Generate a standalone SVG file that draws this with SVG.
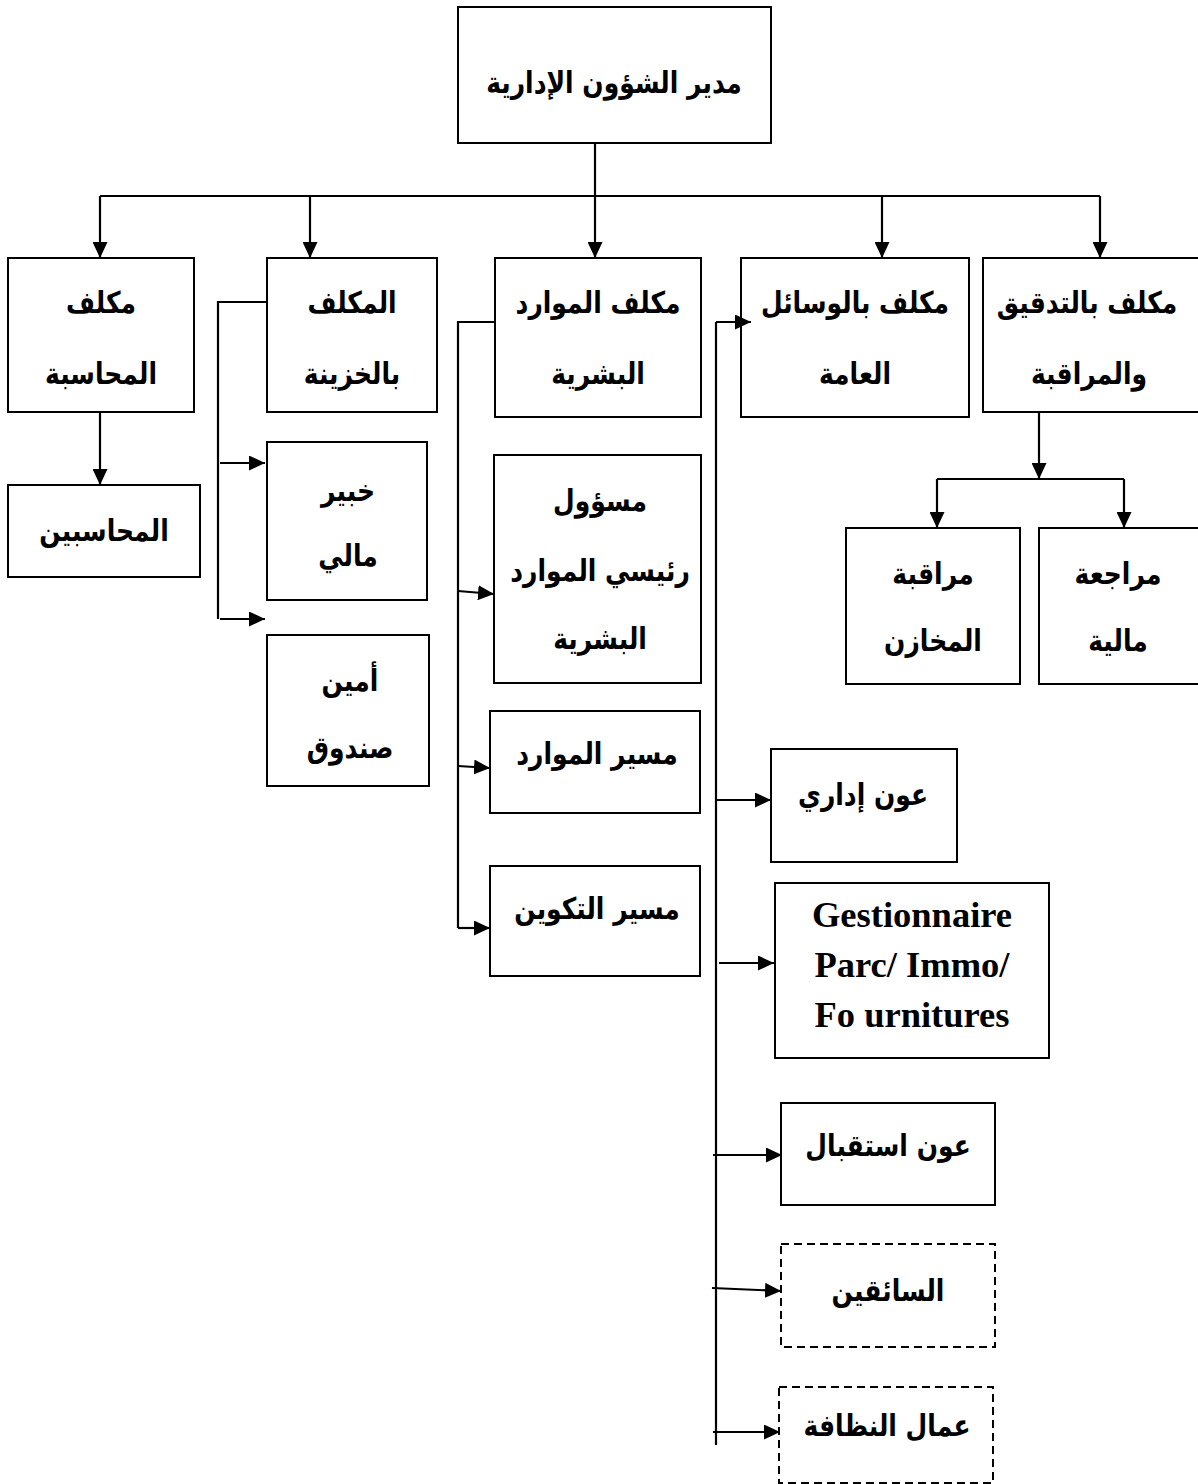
<svg xmlns="http://www.w3.org/2000/svg" width="1198" height="1484" viewBox="0 0 1198 1484">
  <style>
    .box { fill: #ffffff; stroke: #000000; stroke-width: 2; }
    .dash { stroke-dasharray: 8 5; }
    .ar { font-family: "DejaVu Sans", sans-serif; font-weight: bold; font-size: 25px; fill: #000000; text-anchor: middle; }
    .lat { font-family: "Liberation Serif", "Times New Roman", serif; font-weight: bold; font-size: 36.5px; fill: #000000; text-anchor: middle; }
    .ln { fill: none; stroke: #000000; stroke-width: 2.2; }
    .arr { fill: none; stroke: #000000; stroke-width: 2.2; marker-end: url(#head); }
  </style>
  <defs>
    <marker id="head" markerUnits="userSpaceOnUse" markerWidth="16" markerHeight="15" refX="16" refY="7.5" orient="auto">
      <path d="M0,0 L16,7.5 L0,15 Z" fill="#000000"/>
    </marker>
  </defs>
  <rect width="1198" height="1484" fill="#ffffff"/>

  <g id="director">
    <rect class="box" x="458" y="7" width="313" height="136"/>
    <text class="ar" transform="translate(614 93) scale(1 1.2)">مدير الشؤون الإدارية</text>
  </g>

  <g id="accounting">
    <rect class="box" x="8" y="258" width="186" height="154"/>
    <text class="ar" transform="translate(101 313) scale(1 1.2)">مكلف</text>
    <text class="ar" transform="translate(101 384) scale(1 1.2)">المحاسبة</text>
  </g>

  <g id="treasury">
    <rect class="box" x="267" y="258" width="170" height="154"/>
    <text class="ar" transform="translate(352 313) scale(1 1.2)">المكلف</text>
    <text class="ar" transform="translate(352 384) scale(1 1.2)">بالخزينة</text>
  </g>

  <g id="hr">
    <rect class="box" x="495" y="258" width="206" height="159"/>
    <text class="ar" transform="translate(598 313) scale(1 1.2)">مكلف الموارد</text>
    <text class="ar" transform="translate(598 384) scale(1 1.2)">البشرية</text>
  </g>

  <g id="means">
    <rect class="box" x="741" y="258" width="228" height="159"/>
    <text class="ar" transform="translate(855 313) scale(1 1.2)">مكلف بالوسائل</text>
    <text class="ar" transform="translate(855 384) scale(1 1.2)">العامة</text>
  </g>

  <g id="audit">
    <rect class="box" x="983" y="258" width="222" height="154"/>
    <text class="ar" transform="translate(1087 313) scale(1 1.2)">مكلف بالتدقيق</text>
    <text class="ar" transform="translate(1089 384) scale(1 1.2)">والمراقبة</text>
  </g>

  <g id="accountants">
    <rect class="box" x="8" y="485" width="192" height="92"/>
    <text class="ar" transform="translate(104 541) scale(1 1.2)">المحاسبين</text>
  </g>

  <g id="financial-expert">
    <rect class="box" x="267" y="442" width="160" height="158"/>
    <text class="ar" transform="translate(348 501) scale(1 1.2)">خبير</text>
    <text class="ar" transform="translate(348 566) scale(1 1.2)">مالي</text>
  </g>

  <g id="cashier">
    <rect class="box" x="267" y="635" width="162" height="151"/>
    <text class="ar" transform="translate(350 691) scale(1 1.2)">أمين</text>
    <text class="ar" transform="translate(350 758) scale(1 1.2)">صندوق</text>
  </g>

  <g id="hr-chief">
    <rect class="box" x="494" y="455" width="207" height="228"/>
    <text class="ar" transform="translate(600 511) scale(1 1.2)">مسؤول</text>
    <text class="ar" transform="translate(600 581) scale(1 1.2)">رئيسي الموارد</text>
    <text class="ar" transform="translate(600 649) scale(1 1.2)">البشرية</text>
  </g>

  <g id="hr-manager">
    <rect class="box" x="490" y="711" width="210" height="102"/>
    <text class="ar" transform="translate(597 764) scale(1 1.2)">مسير الموارد</text>
  </g>

  <g id="training-manager">
    <rect class="box" x="490" y="866" width="210" height="110"/>
    <text class="ar" transform="translate(597 919) scale(1 1.2)">مسير التكوين</text>
  </g>

  <g id="admin-agent">
    <rect class="box" x="771" y="749" width="186" height="113"/>
    <text class="ar" transform="translate(863 805) scale(1 1.2)">عون إداري</text>
  </g>

  <g id="fleet-manager">
    <rect class="box" x="775" y="883" width="274" height="175"/>
    <text class="lat" x="912" y="927">Gestionnaire</text>
    <text class="lat" x="912" y="977">Parc/ Immo/</text>
    <text class="lat" x="912" y="1027">Fo urnitures</text>
  </g>

  <g id="reception-agent">
    <rect class="box" x="781" y="1103" width="214" height="102"/>
    <text class="ar" transform="translate(888 1156) scale(1 1.2)">عون استقبال</text>
  </g>

  <g id="drivers">
    <rect class="box dash" x="781" y="1244" width="214" height="103"/>
    <text class="ar" transform="translate(888 1301) scale(1 1.2)">السائقين</text>
  </g>

  <g id="cleaners">
    <rect class="box dash" x="779" y="1387" width="214" height="96"/>
    <text class="ar" transform="translate(887 1436) scale(1 1.2)">عمال النظافة</text>
  </g>

  <g id="warehouse-control">
    <rect class="box" x="846" y="528" width="174" height="156"/>
    <text class="ar" transform="translate(933 584) scale(1 1.2)">مراقبة</text>
    <text class="ar" transform="translate(933 651) scale(1 1.2)">المخازن</text>
  </g>

  <g id="financial-review">
    <rect class="box" x="1039" y="528" width="166" height="156"/>
    <text class="ar" transform="translate(1118 584) scale(1 1.2)">مراجعة</text>
    <text class="ar" transform="translate(1118 651) scale(1 1.2)">مالية</text>
  </g>

  <!-- connectors, drawn last so arrowheads sit on top of box edges -->
  <g id="connectors">
    <!-- director to the five units -->
    <path class="ln" d="M595,143 V196"/>
    <path class="ln" d="M100,196 H1100"/>
    <path class="arr" d="M100,196 V258"/>
    <path class="arr" d="M310,196 V258"/>
    <path class="arr" d="M595,196 V258"/>
    <path class="arr" d="M882,196 V258"/>
    <path class="arr" d="M1100,196 V258"/>
    <!-- accounting -->
    <path class="arr" d="M100,412 V485"/>
    <!-- treasury -->
    <path class="ln" d="M267,302 H218 V619"/>
    <path class="arr" d="M220,463 H265"/>
    <path class="arr" d="M220,619 H265"/>
    <!-- human resources -->
    <path class="ln" d="M495,322 H458 V928"/>
    <path class="arr" d="M458,591 L494,594"/>
    <path class="arr" d="M458,766 L490,768"/>
    <path class="arr" d="M458,928 H490"/>
    <!-- general means -->
    <path class="ln" d="M716,1445 V322"/>
    <path class="arr" d="M716,322 H751"/>
    <path class="arr" d="M716,800 H771"/>
    <path class="arr" d="M719,963 H774"/>
    <path class="arr" d="M713,1155 H782"/>
    <path class="arr" d="M712,1288 L781,1291"/>
    <path class="arr" d="M713,1432 H780"/>
    <!-- audit and control -->
    <path class="arr" d="M1039,412 V479"/>
    <path class="ln" d="M937,479 H1124"/>
    <path class="arr" d="M937,479 V528"/>
    <path class="arr" d="M1124,479 V528"/>
  </g>
</svg>
